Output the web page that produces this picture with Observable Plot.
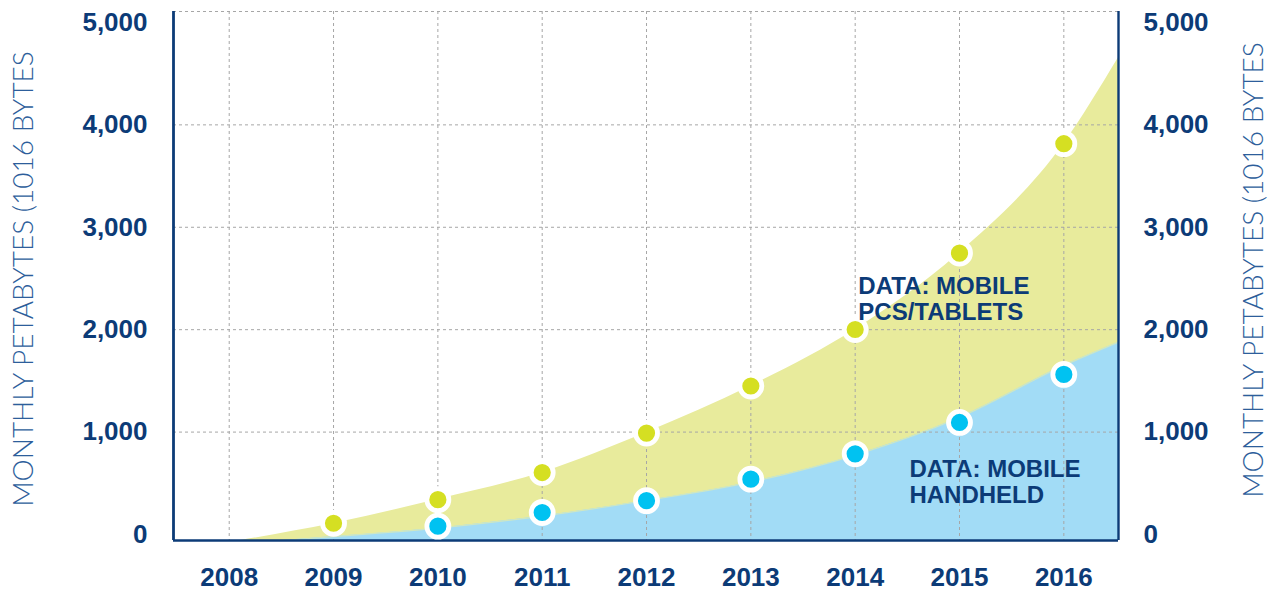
<!DOCTYPE html>
<html><head><meta charset="utf-8">
<script src="https://cdn.jsdelivr.net/npm/d3@7"></script>
<script src="https://cdn.jsdelivr.net/npm/@observablehq/plot@0.6"></script>
<style>body{margin:0;background:#fff}</style>
</head><body><div id="chart"></div>
<script>
// ---- data ----
const years = [2008, 2009, 2010, 2011, 2012, 2013, 2014, 2015, 2016];
const yTicks = [0, 1000, 2000, 3000, 4000, 5000];
const gridValues = [1000, 2000, 3000, 4000];

const pcYears = [2009, 2010, 2011, 2012, 2013, 2014, 2015, 2016];
const pcValues = [110, 340, 605, 990, 1450, 2002, 2748, 3816];

const handheldYears = [2010, 2011, 2012, 2013, 2014, 2015, 2016];
const handheldValues = [81, 215, 330, 540, 788, 1094, 1563];

const pcCurveYears = [2008.11, 2009, 2010, 2011, 2012, 2013, 2014, 2015, 2016, 2016.524];
const pcCurveValues = [-58.6, 107, 342, 605, 996, 1450, 2002, 2750, 3815, 4655];

const handheldCurveYears = [2008.52, 2009, 2010, 2011, 2012, 2013, 2014, 2015, 2016, 2016.524];
const handheldCurveValues = [-58.6, -20, 62, 180, 332, 511, 775, 1143, 1650, 1878];

const seriesLabels = ["DATA: MOBILE\nPCS/TABLETS", "DATA: MOBILE\nHANDHELD"];
const labelYears = [2014.03, 2014.52];
const labelValues = [2530, 742];

const axisTitle = "MONTHLY PETABYTES (1016 BYTES";

// ---- build ----
const xDomain = [2007.466, 2016.524];
const yDomain = [-58.6, 5107];
const navy = "#0c3b77";
const gridColor = "#a6a6a6";

const pcPts = pcYears.map((x, i) => ({x, y: pcValues[i]}));
const hhPts = handheldYears.map((x, i) => ({x, y: handheldValues[i]}));
const pcCurve = pcCurveYears.map((x, i) => ({x, y: pcCurveValues[i]}));
const hhCurve = handheldCurveYears.map((x, i) => ({x, y: handheldCurveValues[i]}));
const labelData = seriesLabels.map((t, i) => ({x: labelYears[i], y: labelValues[i], t}));

const tickFont = "Liberation Sans, Arial, sans-serif";
const titleFont = "Lato, 'Open Sans', sans-serif";

const chart = Plot.plot({
  width: 1274,
  height: 592,
  marginTop: 11,
  marginBottom: 52,
  marginLeft: 173,
  marginRight: 156,
  style: {fontFamily: tickFont, fontSize: "26px", fontWeight: "bold", color: navy, background: "#fff"},
  x: {domain: xDomain},
  y: {domain: yDomain},
  marks: [
    Plot.areaY(pcCurve, {x: "x", y1: yDomain[0], y2: "y", fill: "#e8eb9c", curve: "monotone-x"}),
    Plot.areaY(hhCurve, {x: "x", y1: yDomain[0], y2: "y", fill: "#a2dcf6", curve: "monotone-x"}),
    Plot.line(hhCurve, {x: "x", y: "y", stroke: "#cfe7c2", strokeWidth: 1.2, curve: "monotone-x"}),
    Plot.ruleX(years, {stroke: gridColor, strokeWidth: 1, strokeDasharray: "3,3"}),
    Plot.ruleY(gridValues, {stroke: gridColor, strokeWidth: 1, strokeDasharray: "3,3"}),
    Plot.ruleY([yDomain[1]], {stroke: gridColor, strokeWidth: 1, strokeDasharray: "3,3"}),
    Plot.ruleX([xDomain[0]], {stroke: navy, strokeWidth: 2.8}),
    Plot.ruleX([xDomain[1]], {stroke: navy, strokeWidth: 2.4}),
    Plot.ruleY([yDomain[0]], {stroke: navy, strokeWidth: 2.6}),
    Plot.dot(pcPts, {x: "x", y: "y", r: 11, fill: "#d5df22", stroke: "#fff", strokeWidth: 4.8}),
    Plot.dot(hhPts, {x: "x", y: "y", r: 11, fill: "#00c2f1", stroke: "#fff", strokeWidth: 4.8}),
    Plot.text(labelData, {x: "x", y: "y", text: "t", textAnchor: "start", lineAnchor: "top", fontSize: 24, fontWeight: "bold", fill: navy, lineHeight: 1.08}),
    Plot.axisY({anchor: "left", ticks: yTicks, tickFormat: d3.format(","), tickSize: 0, tickPadding: 26, label: null}),
    Plot.axisY({anchor: "right", ticks: yTicks, tickFormat: d3.format(","), tickSize: 0, tickPadding: 25, label: null}),
    Plot.axisX({ticks: years, tickFormat: d => String(d), tickSize: 0, tickPadding: 27, label: null}),
    Plot.text([axisTitle], {text: d => d, frameAnchor: "left", textAnchor: "middle", rotate: -90, lineAnchor: "bottom", dx: -141, dy: 3, fontSize: 28, fontWeight: 300, fontFamily: titleFont, fill: "#2d5e9b"}),
    Plot.text([axisTitle], {text: d => d, frameAnchor: "right", textAnchor: "middle", rotate: -90, lineAnchor: "bottom", dx: 144, dy: -6, fontSize: 28, fontWeight: 300, fontFamily: titleFont, fill: "#2d5e9b"})
  ]
});
document.getElementById("chart").appendChild(chart);
</script>
</body></html>
